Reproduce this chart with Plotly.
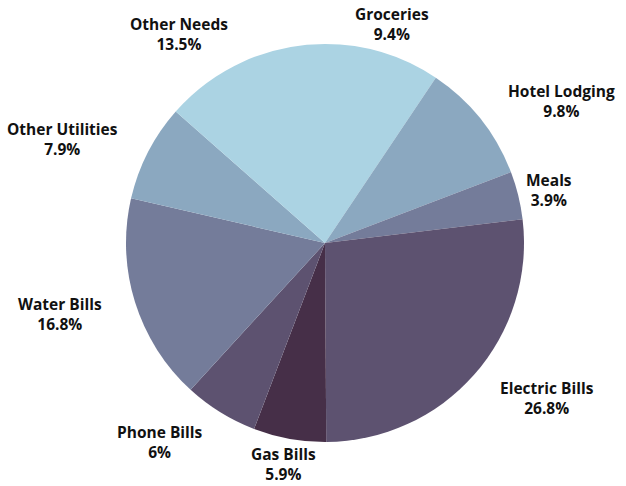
import math
import plotly.graph_objects as go

categories = ["Groceries", "Hotel Lodging", "Meals", "Electric Bills", "Gas Bills",
              "Phone Bills", "Water Bills", "Other Utilities", "Other Needs"]
values = [9.4, 9.8, 3.9, 26.8, 5.9, 6.0, 16.8, 7.9, 13.5]
colors = ["#abd3e3", "#8ba8c0", "#747c9a", "#5d5270", "#462f48",
          "#5d5270", "#747c9a", "#8ba8c0", "#abd3e3"]
# label alignment (style only)
anchors = ["center", "left", "center", "left", "center", "right", "right", "right", "right"]

W, H = 626, 486
cx, cy, R = 325, 243, 199
R_LABEL = 231

fig = go.Figure(go.Pie(
    labels=categories,
    values=values,
    sort=False,
    direction="clockwise",
    rotation=0,
    marker=dict(colors=colors, line=dict(width=0)),
    textinfo="none",
    showlegend=False,
    hoverinfo="label+percent",
    domain=dict(x=[(cx - R) / W, (cx + R) / W], y=[(H - cy - R) / H, (H - cy + R) / H]),
))

total = sum(values)
cum = 0.0
annotations = []
for name, v, anc in zip(categories, values, anchors):
    mid = (cum + v / 2) / total * 2 * math.pi
    cum += v
    px = cx + R_LABEL * math.sin(mid)
    py = cy + 2 - R_LABEL * math.cos(mid)
    py = min(py, H - 22)  # keep the label inside the canvas
    pct = round(v / total * 100, 1)
    annotations.append(dict(
        x=px / W, y=1 - py / H, xref="paper", yref="paper",
        text=f"<b>{name}</b><br><b>{pct:g}%</b>",
        showarrow=False, xanchor=anc, yanchor="middle", align="center",
        font=dict(family="Open Sans", size=15.5, color="#111111"),
    ))

fig.update_layout(
    width=W, height=H,
    margin=dict(l=0, r=0, t=0, b=0),
    paper_bgcolor="white",
    plot_bgcolor="white",
    annotations=annotations,
)
fig.write_html("out.html")
